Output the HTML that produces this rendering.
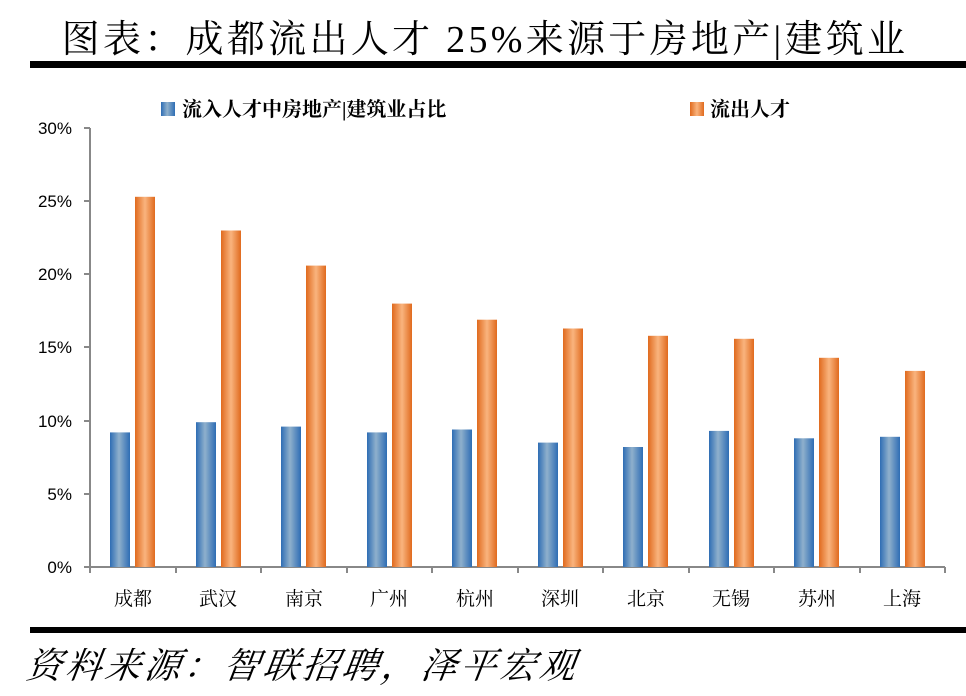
<!DOCTYPE html>
<html><head><meta charset="utf-8"><style>
body{margin:0;background:#fff;}
svg{display:block;font-family:"Liberation Serif","Noto Serif CJK SC",serif;}
</style></head><body>
<svg width="966" height="696" xmlns="http://www.w3.org/2000/svg">
<defs>
<linearGradient id="b" x1="0" x2="1"><stop offset="0" stop-color="#2e6db4"/><stop offset="0.45" stop-color="#8fb0cc"/><stop offset="1" stop-color="#2e6db4"/></linearGradient>
<linearGradient id="o" x1="0" x2="1"><stop offset="0" stop-color="#e06a1e"/><stop offset="0.5" stop-color="#f9b47e"/><stop offset="1" stop-color="#e06a1e"/></linearGradient>
</defs>
<text x="485" y="52" text-anchor="middle" font-size="38" letter-spacing="3.3" fill="#000">图表：成都流出人才 25%来源于房地产|建筑业</text>
<rect x="30" y="61" width="936" height="7" fill="#000"/>
<rect x="30" y="627" width="936" height="6" fill="#000"/>
<text x="30" y="678" font-size="36" letter-spacing="3.5" font-style="italic" fill="#000" transform="skewX(-8) translate(90,0)">资料来源：智联招聘，泽平宏观</text>
<rect x="161" y="102" width="14" height="14" fill="url(#b)"/>
<text x="182" y="116" font-size="20" font-weight="bold" fill="#000">流入人才中房地产|建筑业占比</text>
<rect x="690" y="102" width="14" height="14" fill="url(#o)"/>
<text x="710" y="116" font-size="20" font-weight="bold" fill="#000">流出人才</text>
<g stroke="#888" stroke-width="2" fill="none">
<line x1="90" y1="128" x2="90" y2="567"/>
<line x1="90" y1="567" x2="945" y2="567"/>
<line x1="84" y1="128" x2="90" y2="128"/><line x1="84" y1="201" x2="90" y2="201"/><line x1="84" y1="274" x2="90" y2="274"/><line x1="84" y1="347" x2="90" y2="347"/><line x1="84" y1="421" x2="90" y2="421"/><line x1="84" y1="494" x2="90" y2="494"/><line x1="84" y1="567" x2="90" y2="567"/>
<line x1="90" y1="567" x2="90" y2="573"/><line x1="176" y1="567" x2="176" y2="573"/><line x1="261" y1="567" x2="261" y2="573"/><line x1="347" y1="567" x2="347" y2="573"/><line x1="432" y1="567" x2="432" y2="573"/><line x1="518" y1="567" x2="518" y2="573"/><line x1="603" y1="567" x2="603" y2="573"/><line x1="689" y1="567" x2="689" y2="573"/><line x1="774" y1="567" x2="774" y2="573"/><line x1="860" y1="567" x2="860" y2="573"/><line x1="945" y1="567" x2="945" y2="573"/>
</g>
<g font-size="17" fill="#000" text-anchor="end" font-family="Liberation Sans,sans-serif">
<text x="72" y="134">30%</text><text x="72" y="207">25%</text><text x="72" y="280">20%</text><text x="72" y="353">15%</text><text x="72" y="427">10%</text><text x="72" y="500">5%</text><text x="72" y="573">0%</text>
</g>
<g font-size="19" fill="#000" text-anchor="middle">
<text x="133" y="605">成都</text><text x="218" y="605">武汉</text><text x="304" y="605">南京</text><text x="389" y="605">广州</text><text x="475" y="605">杭州</text><text x="560" y="605">深圳</text><text x="646" y="605">北京</text><text x="731" y="605">无锡</text><text x="817" y="605">苏州</text><text x="902" y="605">上海</text>
</g>
<g>
<rect x="110" y="432.4" width="20" height="134.6" fill="url(#b)"/><rect x="135" y="196.8" width="20" height="370.2" fill="url(#o)"/>
<rect x="196" y="422.2" width="20" height="144.8" fill="url(#b)"/><rect x="221" y="230.5" width="20" height="336.5" fill="url(#o)"/>
<rect x="281" y="426.6" width="20" height="140.4" fill="url(#b)"/><rect x="306" y="265.6" width="20" height="301.4" fill="url(#o)"/>
<rect x="367" y="432.4" width="20" height="134.6" fill="url(#b)"/><rect x="392" y="303.6" width="20" height="263.4" fill="url(#o)"/>
<rect x="452" y="429.5" width="20" height="137.5" fill="url(#b)"/><rect x="477" y="319.7" width="20" height="247.3" fill="url(#o)"/>
<rect x="538" y="442.6" width="20" height="124.4" fill="url(#b)"/><rect x="563" y="328.5" width="20" height="238.5" fill="url(#o)"/>
<rect x="623" y="447" width="20" height="120" fill="url(#b)"/><rect x="648" y="335.8" width="20" height="231.2" fill="url(#o)"/>
<rect x="709" y="430.9" width="20" height="136.1" fill="url(#b)"/><rect x="734" y="338.8" width="20" height="228.2" fill="url(#o)"/>
<rect x="794" y="438.3" width="20" height="128.7" fill="url(#b)"/><rect x="819" y="357.8" width="20" height="209.2" fill="url(#o)"/>
<rect x="880" y="436.8" width="20" height="130.2" fill="url(#b)"/><rect x="905" y="370.9" width="20" height="196.1" fill="url(#o)"/>
</g>
</svg>
</body></html>
